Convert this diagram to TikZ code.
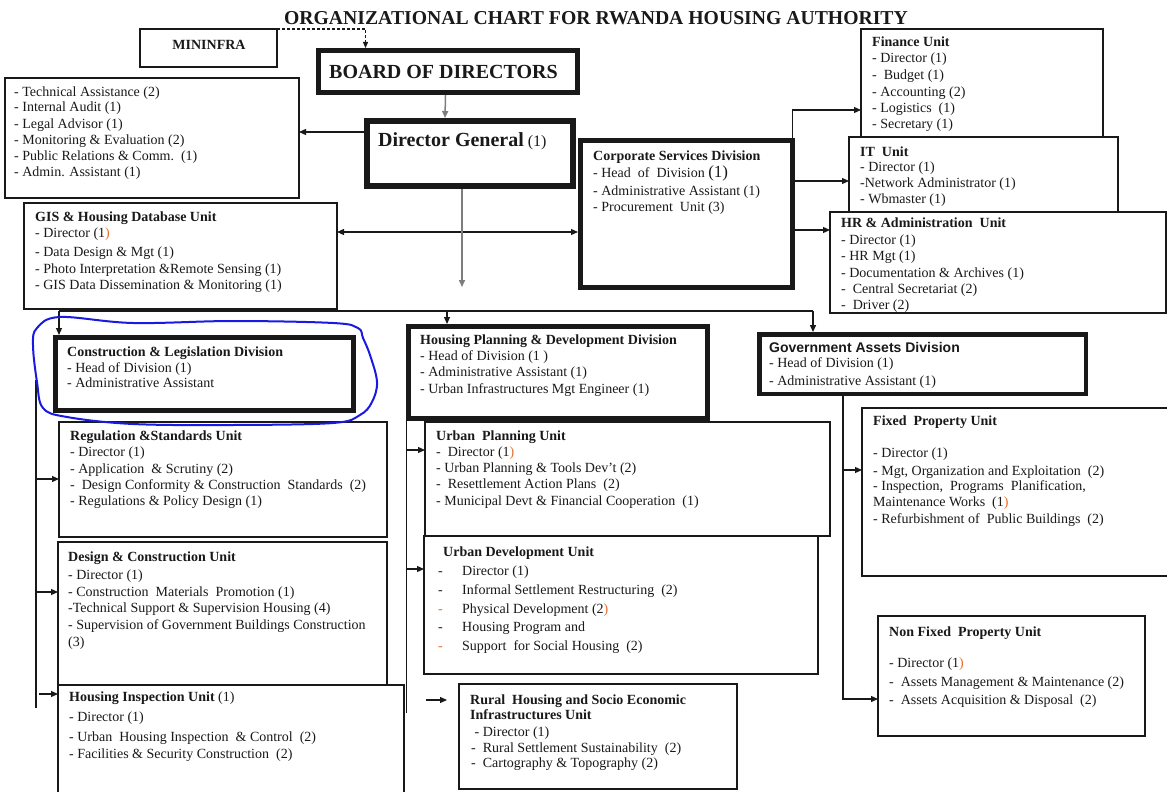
\documentclass[tikz,border=0pt]{standalone}
\usepackage{fontspec}
\setmainfont{Liberation Serif}
\setsansfont{Liberation Sans}
\usetikzlibrary{calc,arrows.meta}
\definecolor{ink}{RGB}{25,25,25}
\definecolor{lineg}{RGB}{125,125,125}
\definecolor{accent}{RGB}{230,110,40}
\definecolor{pen}{RGB}{25,25,225}
\newcommand\op{\textcolor{accent}{)}}
\newcommand\boxlines[3]{\foreach \yy/\tx [count=\i] in {#3} {\node[txt] (#1-\i) at (#2,\yy+4) {\tx};}}
\tikzset{
 box/.style={draw=ink, line width=1.3pt, fill=white, inner sep=0pt, outer sep=0pt, anchor=north west},
 thickbox/.style={box, line width=5pt},
 txt/.style={anchor=base west, inner sep=0pt, text=ink, font=\fontsize{14}{16}\selectfont},
 hd/.style={txt, font=\fontsize{14}{16}\selectfont\bfseries},
 conn/.style={draw=ink, line width=1.2pt},
 arr/.style={conn, -{Triangle[length=7pt,width=6pt]}},
 darr/.style={conn, {Triangle[length=7pt,width=6pt]}-{Triangle[length=7pt,width=6pt]}},
 garr/.style={draw=lineg, line width=1.5pt, -{Triangle[length=7pt,width=6pt]}},
}
\begin{document}
\begin{tikzpicture}[x=1pt,y=-1pt]
\useasboundingbox (0,0) rectangle (1167,792);
\fill[white] (0,0) rectangle (1167,792);
% title
\node[anchor=base, inner sep=0pt, text=ink, font=\fontsize{19.7}{22}\selectfont\bfseries] (title) at (596,25) {ORGANIZATIONAL CHART FOR RWANDA HOUSING AUTHORITY};
% boxes
\node[box, minimum width=137pt, minimum height=38pt] (min) at (140,29) {};
\node[box, minimum width=294pt, minimum height=120pt] (staff) at (5,78) {};
\node[thickbox, minimum width=259pt, minimum height=42pt] (board) at (318.5,50.5) {};
\node[thickbox, line width=6pt, minimum width=206pt, minimum height=65pt] (dg) at (367,121) {};
\node[thickbox, minimum width=212pt, minimum height=147pt] (cs) at (580.5,140.5) {};
\node[box, minimum width=242pt, minimum height=108pt] (fin) at (861,29) {};
\node[box, minimum width=269pt, minimum height=75pt] (it) at (849,137) {};
\node[box, minimum width=336pt, minimum height=101pt] (hr) at (830,212) {};
\node[box, minimum width=313pt, minimum height=106pt] (gis) at (24,203) {};
\node[thickbox, minimum width=298pt, minimum height=73pt] (cl) at (55.5,337.5) {};
\node[thickbox, minimum width=299pt, minimum height=92pt] (hpd) at (408.5,326.5) {};
\node[thickbox, line width=4.5pt, minimum width=326.5pt, minimum height=59.5pt] (gad) at (759.25,334.25) {};
\node[box, minimum width=328pt, minimum height=115pt] (rsu) at (59,422) {};
\node[box, minimum width=329pt, minimum height=143pt] (dcu) at (58,542) {};
\node[box, minimum width=346pt, minimum height=120pt] (hiu) at (58,685) {};
\node[box, minimum width=405pt, minimum height=114pt] (upu) at (425,422) {};
\node[box, minimum width=394pt, minimum height=138pt] (udu) at (424,536) {};
\node[box, minimum width=278pt, minimum height=105pt] (rural) at (459,684) {};
\node[box, minimum width=320pt, minimum height=168pt] (fpu) at (862,408) {};
\node[box, minimum width=267pt, minimum height=120pt] (nfpu) at (878,616) {};
% texts
\node[anchor=base, inner sep=0pt, text=ink, font=\fontsize{14}{15}\selectfont\bfseries] (mint) at (209,50) {MININFRA};
\node[anchor=base west, inner sep=0pt, text=ink, font=\fontsize{20}{22}\selectfont\bfseries] (boardt) at (329,78) {BOARD OF DIRECTORS};
\node[anchor=base west, inner sep=0pt, text=ink, font=\fontsize{20}{22}\selectfont\bfseries] (dgt) at (378,146) {Director General\fontsize{16}{18}\selectfont\mdseries\ (1)};
\boxlines{staff}{14}{92/{- Technical Assistance (2)},107/{- Internal Audit (1)},124/{- Legal Advisor (1)},140/{- Monitoring \& Evaluation (2)},156/{- Public Relations \& Comm.~~(1)},172/{- Admin. Assistant (1)}}
\node[hd] (fin-h) at (872,47) {Finance Unit};
\boxlines{fin}{872}{59/{- Director (1)},75/{-~~Budget (1)},92/{- Accounting (2)},108/{- Logistics~~(1)},124/{- Secretary (1)}}
\node[hd] (it-h) at (860,156) {IT~~Unit};
\boxlines{it}{860}{167/{- Director (1)},183/{-Network Administrator (1)},199/{- Wbmaster (1)}}
\node[hd] (hr-h) at (841,227) {HR \& Administration~~Unit};
\boxlines{hr}{841}{240/{- Director (1)},256/{- HR Mgt (1)},273/{- Documentation \& Archives (1)},289/{-~~Central Secretariat (2)},305/{-~~Driver (2)}}
\node[hd] (cs-h) at (593,160) {Corporate Services Division};
\boxlines{cs}{593}{173/{- Head~~of~~Division {\fontsize{17}{16}\selectfont(1)}},191/{- Administrative Assistant (1)},207/{- Procurement~~Unit (3)}}
\node[hd] (gis-h) at (35,221) {GIS \& Housing Database Unit};
\boxlines{gis}{35}{233/{- Director (1\op},252/{- Data Design \& Mgt (1)},269/{- Photo Interpretation \&Remote Sensing (1)},285/{- GIS Data Dissemination \& Monitoring (1)}}
\node[hd] (cl-h) at (67,356) {Construction \& Legislation Division};
\boxlines{cl}{67}{368/{- Head of Division (1)},383/{- Administrative Assistant}}
\node[hd] (hpd-h) at (420,344) {Housing Planning \& Development Division};
\boxlines{hpd}{420}{356/{- Head of Division (1 )},372/{- Administrative Assistant (1)},389/{- Urban Infrastructures Mgt Engineer (1)}}
\node[txt, font=\fontsize{14}{16}\selectfont\sffamily\bfseries] (gad-h) at (769,352) {Government Assets Division};
\boxlines{gad}{769}{363/{- Head of Division (1)},381/{- Administrative Assistant (1)}}
\node[hd] (rsu-h) at (70,440) {Regulation \&Standards Unit};
\boxlines{rsu}{70}{452/{- Director (1)},469/{- Application~~\& Scrutiny (2)},485/{-~~Design Conformity \& Construction~~Standards~~(2)},501/{- Regulations \& Policy Design (1)}}
\node[hd] (dcu-h) at (68,561) {Design \& Construction Unit};
\boxlines{dcu}{68}{575/{- Director (1)},592/{- Construction~~Materials~~Promotion (1)},608/{-Technical Support \& Supervision Housing (4)},625/{- Supervision of Government Buildings Construction},642/{(3)}}
\node[txt] (hiu-h) at (69,701) {\textbf{Housing Inspection Unit} (1)};
\boxlines{hiu}{69}{717/{- Director (1)},737/{- Urban~~Housing Inspection~~\& Control~~(2)},754/{- Facilities \& Security Construction~~(2)}}
\node[hd] (upu-h) at (436,440) {Urban~~Planning Unit};
\boxlines{upu}{436}{452/{-~~Director (1\op},468/{- Urban Planning \& Tools Dev't (2)},484/{-~~Resettlement Action Plans~~(2)},501/{- Municipal Devt \& Financial Cooperation~~(1)}}
\node[hd] (udu-h) at (443,556) {Urban Development Unit};
\foreach \yy/\cc/\tx [count=\i] in {571/ink/{Director (1)},590/ink/{Informal Settlement Restructuring~~(2)},609/accent/{Physical Development (2\op},627/ink/{Housing Program and},646/accent/{Support~~for Social Housing~~(2)}}
 {\node[txt, text=\cc] (udu-d\i) at (438,\yy+4) {-};
  \node[txt] (udu-\i) at (462,\yy+4) {\tx};}
\node[hd] (rural-h) at (470,704) {Rural~~Housing and Socio Economic};
\node[hd] (rural-h2) at (470,719) {Infrastructures Unit};
\boxlines{rural}{471}{732/{~- Director (1)},748/{-~~Rural Settlement Sustainability~~(2)},763/{-~~Cartography \& Topography (2)}}
\node[hd] (fpu-h) at (873,425) {Fixed~~Property Unit};
\boxlines{fpu}{873}{453/{- Director (1)},471/{- Mgt, Organization and Exploitation~~(2)},486/{- Inspection,~~Programs~~Planification,},502/{Maintenance Works~~(1\op},519/{- Refurbishment of~~Public Buildings~~(2)}}
\node[hd] (nfpu-h) at (889,636) {Non Fixed~~Property Unit};
\boxlines{nfpu}{889}{663/{- Director (1\op},682/{-~~Assets Management \& Maintenance (2)},700/{-~~Assets Acquisition \& Disposal~~(2)}}
% connectors
\draw[conn, dash pattern=on 3pt off 2pt, -{Triangle[length=6pt,width=5pt]}] (min.north east) -| ($(board.north west)+(47,-2.5)$);
\draw[garr] ($(board.south west)+(127,2.5)$) -- ($(dg.north west)+(78,-3)$);
\draw[arr] ($(dg.north west)+(-3,11)$) -- ($(staff.north east)+(0,54)$);
\draw[darr] ($(gis.north east)+(0,29)$) -- ($(cs.north west)+(-2.5,91.5)$);
\coordinate (dgend) at (462,287);
\draw[garr] ($(dg.south -| dgend)+(0,3)$) -- (dgend);
\coordinate (busL) at (59,311);
\coordinate (busH) at (447,311);
\coordinate (busR) at (813,311);
\draw[conn] (busL) -- (busR);
\draw[arr] (busL) -- ($(busL |- cl.north)+(0,-2.5)$);
\draw[arr] (busH) -- ($(busH |- hpd.north)+(0,-2.5)$);
\draw[arr] (busR) -- ($(busR |- gad.north)+(0,-2.2)$);
\draw[arr] ($(cs.north east)+(0,-2.5)$) |- ($(fin.north west)+(0,81)$);
\draw[arr] ($(cs.north east)+(2.5,40.5)$) -- ($(it.north west)+(0,44)$);
\draw[arr] ($(cs.north east)+(2.5,89.5)$) -- ($(hr.north west)+(0,18)$);
\coordinate (clA) at (36,380);
\coordinate (clB) at (36,708);
\draw[conn] (clA) -- (clB);
\draw[arr] ($(clA)+(0,99)$) -- ($(rsu.north west)+(0,57)$);
\draw[arr] ($(clA)+(0,212)$) -- ($(dcu.north west)+(0,50)$);
\draw[arr] ($(clA)+(3,314)$) -- ($(hiu.north west)+(0,9)$);
\coordinate (hpdB) at (406.5,713);
\draw[conn] ($(hpd.south west)+(-2,2.5)$) -- (hpdB);
\coordinate (upuIn) at ($(upu.north west)+(0,28)$);
\coordinate (uduIn) at ($(udu.north west)+(0,33)$);
\draw[arr] (hpdB |- upuIn) -- (upuIn);
\draw[arr] (hpdB |- uduIn) -- (uduIn);
\coordinate (ruA) at (426,700);
\draw[arr] (ruA) -- ($(rural.north west)+(-12,16)$);
\coordinate (gadB) at (843,699);
\coordinate (fpuIn) at ($(fpu.north west)+(0,62)$);
\coordinate (nfpuIn) at ($(nfpu.north west)+(0,83)$);
\draw[arr] ($(gad.south -| gadB)+(0,2.2)$) |- (nfpuIn);
\draw[arr] (gadB |- fpuIn) -- (fpuIn);
% hand-drawn highlight
\draw[pen, line width=2pt] plot[smooth cycle, tension=0.6] coordinates {(60,317) (133,323) (233,321) (333,323) (358,328) (363,338) (370,355) (377,382) (372,402) (360,415) (333,423) (233,425) (133,424) (67,417) (43,408) (37,382) (33,345) (37,328)};
\end{tikzpicture}
\end{document}
